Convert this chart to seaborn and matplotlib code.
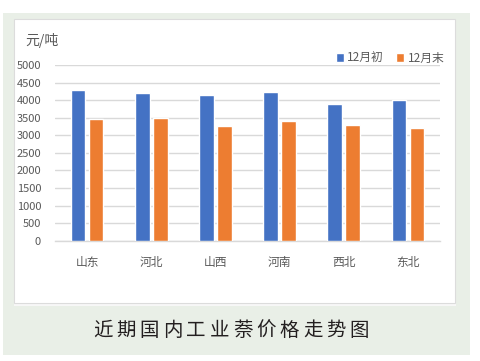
import pandas as pd
import matplotlib
matplotlib.use("Agg")
import matplotlib.pyplot as plt
from matplotlib.patches import Rectangle
import seaborn as sns

regions = ['山东', '河北', '山西', '河南', '西北', '东北']
early_dec = [4300, 4210, 4150, 4240, 3900, 3990]
late_dec = [3450, 3500, 3250, 3400, 3280, 3200]
series_names = ['12月初', '12月末']
y_ticks = [0, 500, 1000, 1500, 2000, 2500, 3000, 3500, 4000, 4500, 5000]

df = pd.DataFrame({
    'region': regions * 2,
    'price': early_dec + late_dec,
    'period': [series_names[0]] * len(regions) + [series_names[1]] * len(regions),
})

sns.set_style('white')
plt.rcParams['font.family'] = ['Noto Sans CJK SC', 'DejaVu Sans']

fig = plt.figure(figsize=(4.8, 3.61), dpi=100)
fig.patch.set_facecolor('white')

# green panel and white chart box behind the axes
fig.patches.append(Rectangle((3 / 480, 1 - 355 / 361), 467 / 480, 342 / 361,
                             transform=fig.transFigure, facecolor='#e9efe7',
                             edgecolor='none', zorder=-3))
fig.patches.append(Rectangle((14 / 480, 1 - 306 / 361), 442 / 480, 287 / 361,
                             transform=fig.transFigure, facecolor='#f7f7f7',
                             edgecolor='none', zorder=-2))
fig.patches.append(Rectangle((14 / 480, 1 - 303 / 361), 441 / 480, 284 / 361,
                             transform=fig.transFigure, facecolor='white',
                             edgecolor='#dcdcdc', linewidth=0.8, zorder=-1))

ax = fig.add_axes([55 / 480, 1 - 240.7 / 361, 385 / 480, 175.7 / 361])
ax.set_facecolor('none')

sns.barplot(data=df, x='region', y='price', hue='period', order=regions,
            hue_order=series_names, palette=['#4472c4', '#ed7d31'],
            width=0.56, gap=0.19, saturation=1, ax=ax, zorder=3)

ax.set_ylim(0, 5000)
ax.set_yticks(y_ticks)
ax.set_xlim(-0.5, len(regions) - 0.5)
ax.grid(axis='y', color='#d9d9d9', linewidth=1, zorder=0)
ax.set_axisbelow(True)
for s in ['top', 'right', 'left']:
    ax.spines[s].set_visible(False)
ax.spines['bottom'].set_color('#d9d9d9')
ax.spines['bottom'].set_linewidth(1)
ax.tick_params(axis='both', length=0, labelsize=8, colors='#595959')
ax.tick_params(axis='y', pad=10)
ax.tick_params(axis='x', pad=11, labelsize=8.5)
ax.set_xlabel('')
ax.set_ylabel('')

handles, labels = ax.get_legend_handles_labels()
ax.legend(handles, labels, ncol=2, frameon=False, loc='center',
          bbox_to_anchor=(0.8125, 1 - 58 / 361), bbox_transform=fig.transFigure,
          fontsize=8.5, handlelength=0.7, handleheight=0.7, handletextpad=0.3,
          columnspacing=1.0, labelcolor='#595959')

fig.text(25 / 480, 1 - 41 / 361, '元/吨', fontsize=10, color='#595959',
         ha='left', va='center')

title = '近期国内工业萘价格走势图'
x0, step = 103 / 480, 23.3 / 480
for i, ch in enumerate(title):
    fig.text(x0 + i * step, 1 - 330 / 361, ch, fontsize=14, color='#231f20',
             fontweight='medium', ha='center', va='center')

fig.savefig('out.png', dpi=100)
